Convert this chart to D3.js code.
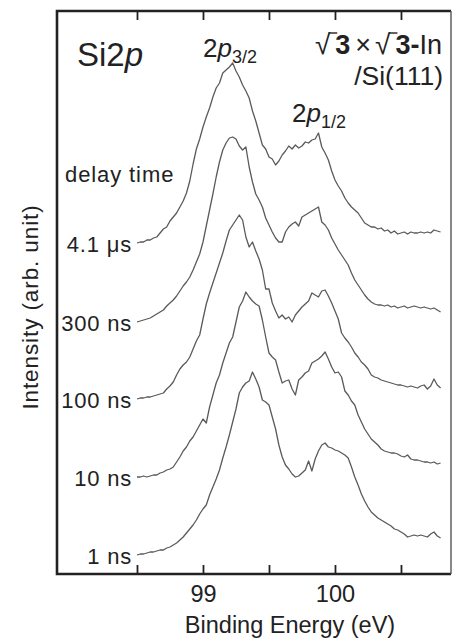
<!DOCTYPE html>
<html><head><meta charset="utf-8">
<script src="https://cdn.jsdelivr.net/npm/d3@7"></script>
<style>body{margin:0;background:#fff}text{font-family:"Liberation Sans",Arial,sans-serif;fill:#222}</style>
</head><body>
<svg id="c" width="453" height="642"></svg>
<script>
// ---- data ----
const energyStart = 98.5, energyStep = 0.025; // eV, sampling of the spectra
const delayLabels = ["4.1 μs", "300 ns", "100 ns", "10 ns", "1 ns"];
const offsets = [312, 233, 156, 78, 0]; // vertical stacking offsets (arb. unit)
const s_4_1us = [0,1,1,3,3,5,6,10,14,16,22,26,30,36,42,50,62,79,94,104,116,126,135,146,155,160,170,173,176,180,172,166,158,152,145,132,122,110,98,94,86,84,78,82,88,92,97,94,98,95,97,101,100,103,104,110,96,90,83,72,63,57,52,45,40,36,33,30,25,20,18,16,16,14,15,12,13,10,12,9,10,11,9,11,10,10,11,10,11,10,13,12,11];
const s_300ns = [0,1,2,3,4,6,8,10,12,16,19,22,26,31,36,40,45,52,60,68,80,96,112,128,145,160,172,179,184,185,183,176,172,175,155,140,128,122,115,104,97,90,84,80,80,90,95,98,100,96,105,107,109,111,113,115,100,97,92,84,78,72,67,62,57,49,42,37,32,27,23,20,18,17,17,16,17,15,16,14,15,16,14,15,16,15,14,15,14,13,14,12,10];
const s_100ns = [0,1,1,2,2,3,4,5,6,10,13,17,24,30,34,37,42,50,58,64,80,95,106,116,126,136,146,158,169,174,179,184,179,162,152,157,148,140,129,110,110,96,88,81,84,80,82,77,84,88,92,95,98,106,104,102,108,109,103,96,88,80,66,61,57,52,46,42,37,34,30,24,22,21,19,18,17,16,15,14,14,13,12,13,12,11,13,14,10,13,20,14,11];
const s_10ns = [0,0,1,0,1,2,2,4,5,7,8,10,15,20,26,30,36,40,46,52,58,54,70,82,94,102,114,124,134,140,155,170,176,185,180,176,173,171,157,140,124,120,117,105,94,96,97,88,82,97,100,104,106,114,116,118,121,125,118,110,104,105,100,86,82,76,72,62,55,48,43,38,35,32,28,26,25,24,24,23,21,20,22,18,17,17,16,15,15,14,15,13,14];
const s_1ns = [0,1,1,2,3,3,4,5,5,7,8,10,12,15,18,22,26,30,35,41,46,50,60,68,76,85,97,108,120,133,146,162,168,172,174,183,176,168,155,153,150,138,126,110,98,90,86,81,78,79,82,85,94,84,96,104,110,112,108,107,105,104,102,100,97,88,78,70,61,54,48,43,40,37,35,33,31,29,26,25,23,21,18,19,20,19,20,19,18,21,23,19,17];
const spectra = [s_4_1us, s_300ns, s_100ns, s_10ns, s_1ns];
const tickValues = [98.5, 99, 99.5, 100, 100.5];
const tickLabels = {99: "99", 100: "100"};

// ---- layout ----
const svg = d3.select("#c");
const L = 57, R = 451, T = 11, B = 574;
const x = d3.scaleLinear().domain([97.894, 100.879]).range([L, R]);
const y = d3.scaleLinear().domain([-19, 544]).range([B, T]);

// spectra
const line = d3.line().x(d => x(d[0])).y(d => y(d[1]));
spectra.forEach((s, k) => {
  const pts = s.map((v, i) => [energyStart + energyStep * i, v + offsets[k]]);
  svg.append("path").attr("d", line(pts)).attr("fill", "none")
    .attr("stroke", "#5a5a5a").attr("stroke-width", 1.3).attr("stroke-linejoin", "round");
  svg.append("text").attr("x", x(energyStart) - 5).attr("y", y(offsets[k]) + 9)
    .attr("text-anchor", "end").attr("font-size", 22).attr("letter-spacing", 0.8)
    .text(delayLabels[k]);
});

// axes (inward ticks)
const axB = d3.axisBottom(x).tickValues(tickValues).tickSizeInner(-9).tickSizeOuter(0)
  .tickPadding(11).tickFormat(d => tickLabels[d] || "");
const gb = svg.append("g").attr("transform", `translate(0,${B})`).call(axB);
const axT = d3.axisTop(x).tickValues(tickValues).tickSizeInner(-9).tickSizeOuter(0).tickFormat("");
const gt = svg.append("g").attr("transform", `translate(0,${T})`).call(axT);
[gb, gt].forEach(g => {
  g.select(".domain").remove();
  g.selectAll(".tick line").attr("stroke", "#222").attr("stroke-width", 1.8);
  g.selectAll(".tick text").attr("font-size", 23.5).attr("fill", "#222")
    .style("font-family", '"Liberation Sans",Arial,sans-serif');
});

// frame
svg.append("path").attr("d", `M${R},${T}H${L}V${B}H${R}`).attr("fill", "none")
  .attr("stroke", "#222").attr("stroke-width", 2.6);
svg.append("line").attr("x1", R).attr("x2", R).attr("y1", T).attr("y2", B)
  .attr("stroke", "#555").attr("stroke-width", 1.4);

// axis titles
svg.append("text").attr("x", 290).attr("y", 633).attr("text-anchor", "middle")
  .attr("font-size", 23.5).text("Binding Energy (eV)");
svg.append("text").attr("transform", "translate(38,307) rotate(-90)").attr("text-anchor", "middle")
  .attr("font-size", 22.5).attr("letter-spacing", 0.9).text("Intensity (arb. unit)");

// annotations
const si = svg.append("text").attr("x", 77).attr("y", 66).attr("font-size", 33);
si.append("tspan").text("Si2");
si.append("tspan").attr("font-style", "italic").text("p");

function orbital(xx, yy, sub) {
  const t = svg.append("text").attr("x", xx).attr("y", yy).attr("font-size", 26);
  t.append("tspan").text("2");
  t.append("tspan").attr("font-style", "italic").text("p");
  t.append("tspan").attr("font-size", 18).attr("dy", 6).text(sub);
}
orbital(203, 57, "3/2");
orbital(292, 122, "1/2");

svg.append("text").attr("x", 65).attr("y", 182).attr("font-size", 22).attr("letter-spacing", 0.9)
  .text("delay time");

const sq = svg.append("text").attr("x", 442).attr("y", 54).attr("font-size", 27).attr("text-anchor", "end");
sq.append("tspan").attr("font-size", 28).text("√");
sq.append("tspan").attr("font-weight", "bold").attr("dx", 5).text("3");
sq.append("tspan").attr("dx", 5).text("×");
sq.append("tspan").attr("font-size", 28).attr("dx", 4).text("√");
sq.append("tspan").attr("font-weight", "bold").attr("dx", 5).text("3");
sq.append("tspan").attr("font-weight", "bold").text("-");
sq.append("tspan").text("In");
// overbars of the radicals
const node = sq.node();
[0, 3].forEach(ci => {
  const b = node.getExtentOfChar(ci);
  const b2 = node.getExtentOfChar(ci + 1);
  svg.append("line").attr("x1", b.x + b.width - 1.5).attr("x2", b2.x + 2)
    .attr("y1", b.y + 4).attr("y2", b.y + 4).attr("stroke", "#222").attr("stroke-width", 1.4);
});

svg.append("text").attr("x", 443).attr("y", 85).attr("text-anchor", "end").attr("font-size", 26.5)
  .text("/Si(111)");
</script>
</body></html>
